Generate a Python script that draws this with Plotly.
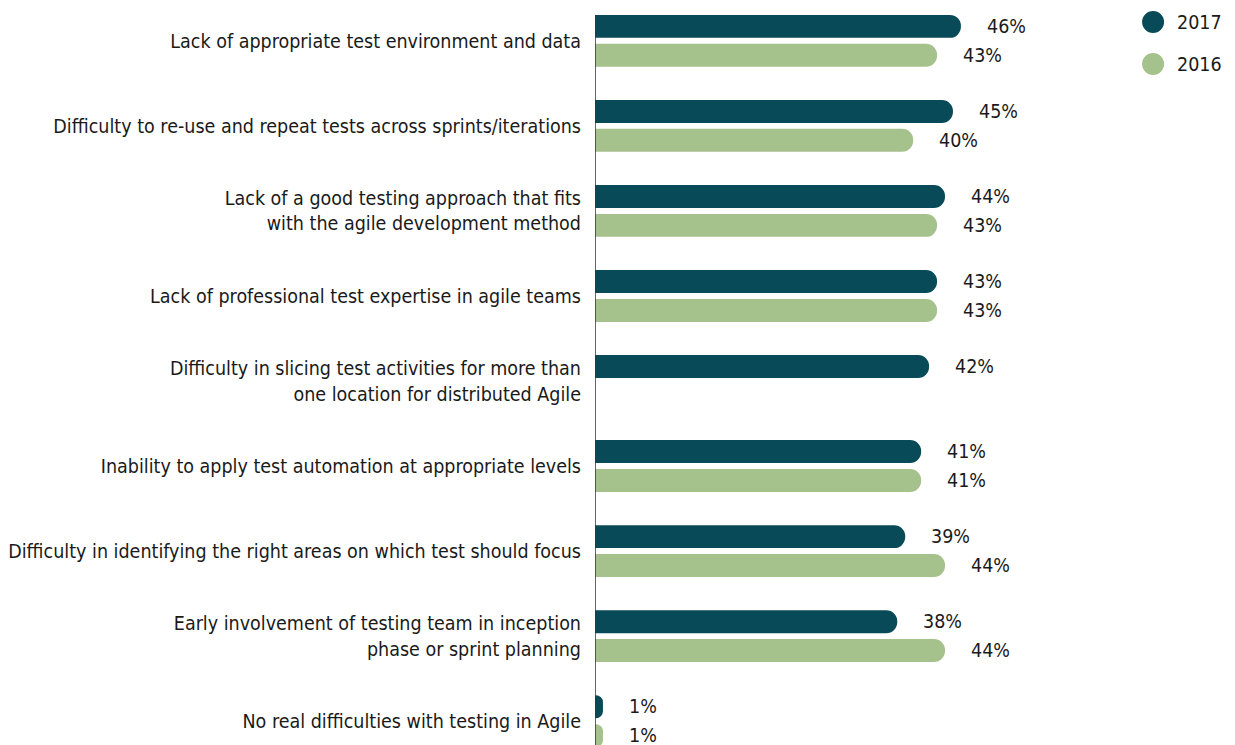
import plotly.graph_objects as go

categories = [
    "Lack of appropriate test environment and data",
    "Difficulty to re-use and repeat tests across sprints/iterations",
    "Lack of a good testing approach that fits<br>with the agile development method",
    "Lack of professional test expertise in agile teams",
    "Difficulty in slicing test activities for more than<br>one location for distributed Agile",
    "Inability to apply test automation at appropriate levels",
    "Difficulty in identifying the right areas on which test should focus",
    "Early involvement of testing team in inception<br>phase or sprint planning",
    "No real difficulties with testing in Agile",
]
series_names = ["2017", "2016"]
values_2017 = [46, 45, 44, 43, 42, 41, 39, 38, 1]
values_2016 = [43, 40, 43, 43, None, 41, 44, 44, 1]
colors = ["#094a58", "#a5c18c"]

FONT = "DejaVu Sans Condensed, Liberation Sans Narrow, sans-serif"
FS = 19.5
offsets = [-0.17, 0.17]
idx = list(range(len(categories)))

fig = go.Figure()
annotations = []
for name, vals, col, off in zip(series_names, [values_2017, values_2016], colors, offsets):
    ys = [i + off for i, v in zip(idx, vals) if v is not None]
    xs = [v for v in vals if v is not None]
    fig.add_trace(go.Bar(
        x=xs, y=ys, orientation="h", width=0.27,
        marker=dict(color=col, cornerradius="50%", line=dict(width=0)),
        name=name, showlegend=False, hoverinfo="x+name",
    ))
    for x, y in zip(xs, ys):
        annotations.append(dict(
            x=x, y=y, xref="x", yref="y", text=f"{x}%", showarrow=False,
            xanchor="left", yanchor="middle", xshift=24,
            font=dict(family=FONT, size=FS, color="#1a1a1a"),
        ))

# manual legend (circles + labels)
legend_y = [0.981, 0.924]
shapes = []
for name, col, ly in zip(series_names, colors, legend_y):
    shapes.append(dict(
        type="circle", xref="paper", yref="paper",
        xsizemode="pixel", ysizemode="pixel",
        xanchor=1.063, yanchor=ly, x0=-11, x1=11, y0=-11, y1=11,
        fillcolor=col, line=dict(width=0),
    ))
    annotations.append(dict(
        x=1.1048, y=ly, xref="paper", yref="paper", text=name, showarrow=False,
        xanchor="left", yanchor="middle",
        font=dict(family=FONT, size=FS, color="#1a1a1a"),
    ))

# vertical axis line
shapes.append(dict(type="line", xref="x", yref="paper", x0=0, x1=0, y0=0, y1=0.9905,
                   line=dict(color="#333333", width=1.5)))

fig.update_layout(
    width=1227, height=737,
    margin=dict(l=587, r=115, t=0, b=0, autoexpand=False),
    paper_bgcolor="white", plot_bgcolor="white",
    barmode="overlay",
    xaxis=dict(range=[0, 66], visible=False, fixedrange=True, automargin=False),
    yaxis=dict(
        range=[8.28, -0.386], tickmode="array", tickvals=idx, ticktext=categories,
        showgrid=False, zeroline=False, showline=False, ticks="",
        ticklabelstandoff=13, automargin=False,
        tickfont=dict(family=FONT, size=FS, color="#1a1a1a"),
    ),
    shapes=shapes,
    annotations=annotations,
    font=dict(family=FONT),
)

fig.write_html("out.html")
